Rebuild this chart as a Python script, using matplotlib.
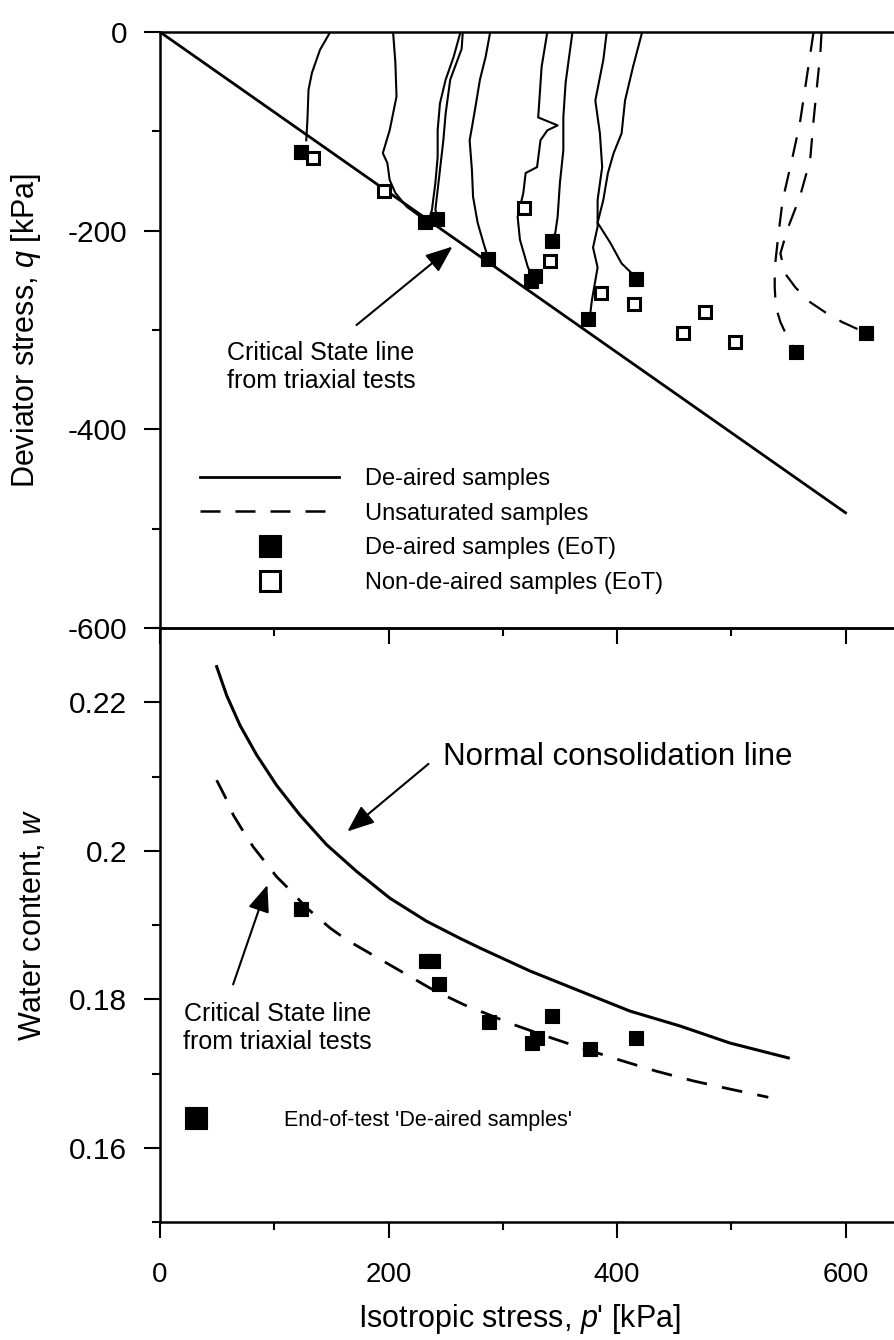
import matplotlib
matplotlib.use('Agg')
import matplotlib.pyplot as plt
from matplotlib.ticker import MultipleLocator, FuncFormatter
from matplotlib.lines import Line2D

plt.rcParams['font.family'] = ['Liberation Sans', 'DejaVu Sans']
plt.rcParams['axes.unicode_minus'] = False
plt.rcParams['mathtext.fontset'] = 'custom'
plt.rcParams['mathtext.it'] = 'Liberation Sans:italic'
plt.rcParams['mathtext.rm'] = 'Liberation Sans'

# ---- top panel data (p', q) ----
csl_p = [0, 600]
csl_q = [0, -484]

# stress paths, de-aired samples (solid)
deaired_p = [
    [149, 140, 133, 130, 129, 128],
    [204, 206, 207, 201, 195, 199, 201, 206, 216, 228, 232],
    [263, 257, 250, 245, 243, 243, 241, 238, 235],
    [265, 264, 254, 250, 248, 245, 243, 241, 243],
    [289, 285, 280, 276, 273, 271, 273, 274, 278, 283, 287],
    [339, 334, 331, 348, 339, 333, 330, 320, 318, 313, 315, 322, 327],
    [361, 355, 353, 353, 350, 348, 346, 343],
    [391, 388, 381, 385, 387, 383, 383, 379, 383, 378, 376],
    [422, 414, 407, 404, 397, 392, 388, 383, 394, 404, 413, 418],
]
deaired_q = [
    [0, -18, -41, -58, -89, -109],
    [0, -31, -65, -99, -122, -132, -149, -162, -176, -186, -192],
    [0, -25, -48, -72, -99, -126, -152, -179, -191],
    [0, -17, -48, -82, -109, -139, -159, -179, -186],
    [0, -25, -48, -76, -96, -109, -139, -166, -192, -212, -227],
    [0, -35, -86, -94, -99, -109, -136, -142, -162, -186, -209, -237, -247],
    [0, -51, -86, -119, -152, -186, -202, -210],
    [0, -28, -69, -102, -136, -169, -196, -217, -237, -270, -289],
    [0, -35, -69, -102, -122, -142, -169, -192, -212, -233, -243, -249],
]

# stress paths, unsaturated samples (dashed)
unsat_p = [
    [572, 560, 553, 545, 541, 538, 538, 539, 543, 551, 557],
    [579, 578, 572, 569, 560, 549, 543, 547, 556, 569, 582, 597, 618],
]
unsat_q = [
    [0, -92, -129, -169, -206, -238, -257, -277, -292, -312, -322],
    [0, -20, -89, -129, -166, -199, -223, -243, -257, -272, -282, -292, -303],
]

# end-of-test points
eot_p = [123, 232, 242, 287, 343, 328, 325, 375, 417, 557, 618]
eot_q = [-121, -191, -188, -229, -210, -246, -251, -289, -249, -322, -303]
nda_p = [134, 196, 319, 341, 386, 415, 477, 458, 503]
nda_q = [-127, -160, -177, -231, -263, -274, -282, -303, -312]

# ---- bottom panel data (p', w) ----
ncl_p = [49.6, 58.4, 70.0, 84.6, 102.1, 122.5, 145.9, 172.2, 201.3, 233.4,
         262.6, 280.1, 323.9, 367.6, 411.4, 455.1, 498.9, 549.9]
ncl_w = [0.2248, 0.2209, 0.2169, 0.2129, 0.2088, 0.2048, 0.2008, 0.1972, 0.1936,
         0.1905, 0.1882, 0.1869, 0.1838, 0.1811, 0.1784, 0.1764, 0.1741, 0.1721]
cslw_p = [49.6, 56.9, 64.2, 72.9, 81.7, 91.9, 102.1, 113.8, 128.4, 148.8, 163.4,
          177.9, 236.3, 248.0, 265.5, 294.7, 309.2, 338.5, 367.6, 402.6, 434.7,
          466.8, 498.9, 532.4]
cslw_w = [0.2095, 0.2073, 0.2048, 0.2026, 0.2005, 0.1985, 0.1965, 0.1947, 0.1923,
          0.1896, 0.1880, 0.1867, 0.1815, 0.1806, 0.1793, 0.1775, 0.1766, 0.1750,
          0.1735, 0.1718, 0.1703, 0.1690, 0.1679, 0.1668]
w_eot_p = [123, 233, 239, 244, 288, 343, 326, 330, 376, 417]
w_eot_w = [0.1922, 0.1851, 0.1851, 0.1820, 0.1770, 0.1778, 0.1741, 0.1748, 0.1733, 0.1748]

W, H = 894, 1340
fig = plt.figure(figsize=(W / 100, H / 100), dpi=100)
ax1 = fig.add_axes([160 / W, 1 - 628 / H, (W - 160) / W, 596 / H])
ax2 = fig.add_axes([160 / W, 1 - 1222 / H, (W - 160) / W, 594 / H], sharex=ax1)
ax2.patch.set_visible(False)

# top panel
ax1.plot(csl_p, csl_q, color='k', lw=2.0)
for p, q in zip(deaired_p, deaired_q):
    ax1.plot(p, q, color='k', lw=1.5)
for p, q in zip(unsat_p, unsat_q):
    ax1.plot(p, q, color='k', lw=1.6, ls='--', dashes=(9, 7))
ax1.plot(eot_p, eot_q, ls='none', marker='s', color='k', ms=10, mew=0.8, zorder=5)
ax1.plot(nda_p, nda_q, ls='none', marker='s', mfc='white', mec='k', ms=9, mew=2.2, zorder=5)

handles = [Line2D([], [], color='k', lw=2),
           Line2D([], [], color='k', lw=1.8, ls='--', dashes=(8, 6)),
           Line2D([], [], ls='none', marker='s', color='k', ms=10, mew=0.8),
           Line2D([], [], ls='none', marker='s', mfc='white', mec='k', ms=9, mew=2.2)]
labels = ['De-aired samples', 'Unsaturated samples',
          'De-aired samples (EoT)', 'Non-de-aired samples (EoT)']
ax1.legend(handles, labels, loc='upper left', bbox_to_anchor=(200 / W, 1 - 468 / H),
           bbox_transform=fig.transFigure, frameon=False, fontsize=17,
           handlelength=5.9, handletextpad=1.1, labelspacing=0.54,
           borderpad=0, borderaxespad=0, markerscale=1.65)

arrow = dict(arrowstyle='-|>,head_length=0.75,head_width=0.3', color='k', lw=1.5,
             mutation_scale=22, shrinkA=0, shrinkB=0)
ax1.annotate('', xy=(256, -216), xytext=(172, -295), arrowprops=arrow)
ax1.text(141, -337, 'Critical State line\nfrom triaxial tests', ha='center', va='center',
         fontsize=18)

ax1.set_ylim(-600, 0)
ax1.set_xlim(0, 642.4)
ax1.yaxis.set_major_locator(MultipleLocator(200))
ax1.yaxis.set_minor_locator(MultipleLocator(100))
ax1.set_ylabel('Deviator stress, $\\it{q}$ [kPa]', fontsize=22)
ax1.yaxis.set_label_coords(-0.159, 0.5)
ax1.spines['right'].set_visible(False)
ax1.tick_params(axis='x', which='both', labelbottom=False, top=False)

# bottom panel
ax2.plot(ncl_p, ncl_w, color='k', lw=2.2)
ax2.plot(cslw_p, cslw_w, color='k', lw=2.0, ls='--', dashes=(7.5, 5.5))
ax2.plot(w_eot_p, w_eot_w, ls='none', marker='s', color='k', ms=10, mew=0.8, zorder=5)

ax2.legend([Line2D([], [], ls='none', marker='s', color='k', ms=10, mew=0.8)],
           ["End-of-test 'De-aired samples'"], loc='upper left',
           bbox_to_anchor=(174.5 / W, 1 - 1110 / H), bbox_transform=fig.transFigure,
           frameon=False, fontsize=15.5, handlelength=2, handletextpad=3.1,
           borderpad=0, borderaxespad=0, markerscale=1.65)

ax2.annotate('', xy=(164, 0.2026), xytext=(235, 0.2117), arrowprops=arrow)
ax2.text(248, 0.2126, 'Normal consolidation line', ha='left', va='center', fontsize=22.5)
ax2.annotate('', xy=(94, 0.1954), xytext=(64, 0.1820), arrowprops=arrow)
ax2.text(103, 0.1761, 'Critical State line\nfrom triaxial tests', ha='center', va='center',
         fontsize=18)

ax2.set_ylim(0.15, 0.23)
ax2.yaxis.set_major_locator(MultipleLocator(0.02))
ax2.yaxis.set_minor_locator(MultipleLocator(0.01))
ax2.yaxis.set_major_formatter(FuncFormatter(lambda v, pos: '%g' % round(v, 3)))
ax2.xaxis.set_major_locator(MultipleLocator(200))
ax2.xaxis.set_minor_locator(MultipleLocator(100))
ax2.set_ylabel('Water content, $\\it{w}$', fontsize=22)
ax2.yaxis.set_label_coords(-0.152, 0.5)
ax2.set_xlabel("Isotropic stress, $\\it{p}$' [kPa]", fontsize=22)
ax2.xaxis.set_label_coords(0.49, -0.135)
ax2.spines['right'].set_visible(False)
ax2.tick_params(axis='x', which='both', top=False)

for ax in (ax1, ax2):
    for s in ax.spines.values():
        s.set_linewidth(1.8)
    ax.tick_params(which='major', direction='out', length=11.5, width=1.5)
    ax.tick_params(which='minor', direction='out', length=6, width=1.5)
    ax.tick_params(axis='y', which='both', right=False, labelsize=21.5, pad=12)
ax2.tick_params(axis='x', labelsize=20, pad=17)

fig.savefig('out.png', dpi=100)
